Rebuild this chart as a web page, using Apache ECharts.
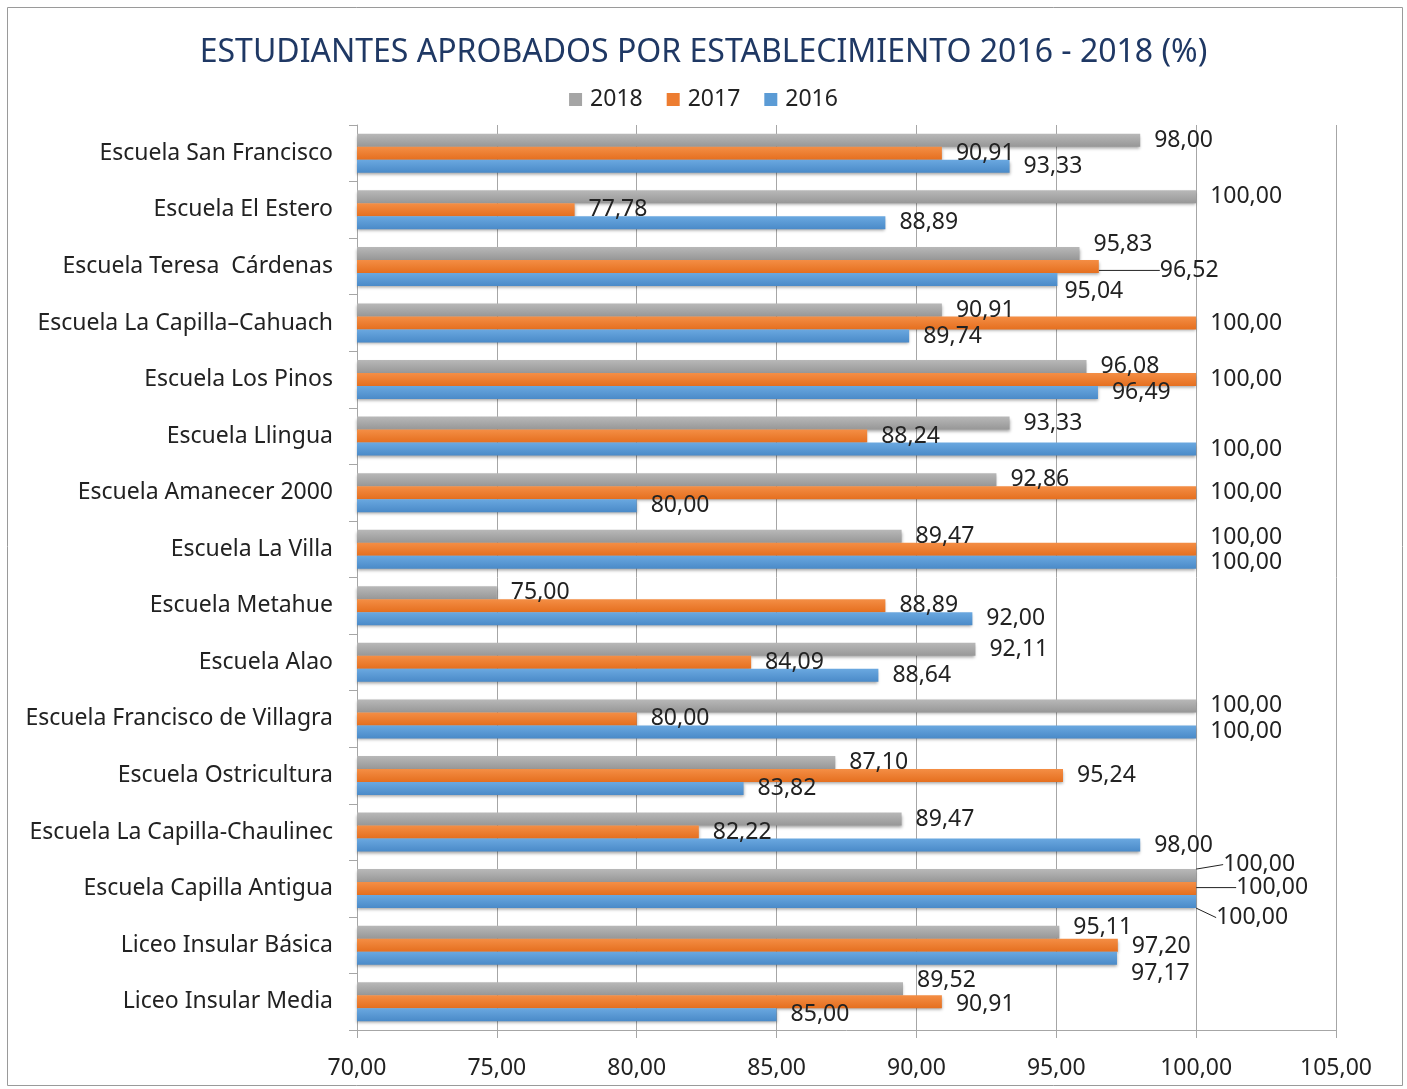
<!DOCTYPE html>
<html>
<head>
<meta charset="utf-8">
<script src="https://cdn.jsdelivr.net/npm/echarts@6/dist/echarts.min.js"></script>
<style>
html, body { margin: 0; padding: 0; background: #fff; }
#chart { width: 1407px; height: 1089px; }
</style>
</head>
<body>
<div id="chart"></div>
<script>
// 数据
var categorias = ["Escuela San Francisco", "Escuela El Estero", "Escuela Teresa  Cárdenas", "Escuela La Capilla\u2013Cahuach",
    "Escuela Los Pinos", "Escuela Llingua", "Escuela Amanecer 2000", "Escuela La Villa", "Escuela Metahue",
    "Escuela Alao", "Escuela Francisco de Villagra", "Escuela Ostricultura", "Escuela La Capilla-Chaulinec",
    "Escuela Capilla Antigua", "Liceo Insular Básica", "Liceo Insular Media"];
var datos2018 = [98.00, 100.00, 95.83, 90.91, 96.08, 93.33, 92.86, 89.47, 75.00, 92.11, 100.00, 87.10, 89.47, 100.00, 95.11, 89.52];
var datos2017 = [90.91, 77.78, 96.52, 100.00, 100.00, 88.24, 100.00, 100.00, 88.89, 84.09, 80.00, 95.24, 82.22, 100.00, 97.20, 90.91];
var datos2016 = [93.33, 88.89, 95.04, 89.74, 96.49, 100.00, 80.00, 100.00, 92.00, 88.64, 100.00, 83.82, 98.00, 100.00, 97.17, 85.00];

// etiquetas movidas a mano (como en el original): [dx, dy, con linea]
var ajustes = {
    '2018': { 2: [0, -9], 13: [13, -11, true], 14: [0, -5], 15: [0, -8] },
    '2017': { 2: [47, 4, true], 7: [0, -12], 13: [26, -1, true], 14: [0, 1], 15: [0, 3] },
    '2016': { 2: [-7, 12], 13: [6, 16, true], 14: [0, 15] }
};

var fuente = 'Noto Sans';
function coma(v) { return v.toFixed(2).replace('.', ','); }
function degradado(c1, c2) {
    return new echarts.graphic.LinearGradient(0, 0, 0, 1, [
        { offset: 0, color: c1 }, { offset: 1, color: c2 }
    ]);
}
function serie(nombre, datos, c1, c2) {
    var aj = ajustes[nombre] || {};
    return {
        name: nombre,
        type: 'bar',
        data: datos.map(function (v, i) {
            var a = aj[i];
            return (a && a[2]) ? { value: v, labelLine: { show: true } } : v;
        }),
        barWidth: 13,
        barGap: '0%',
        itemStyle: {
            color: degradado(c1, c2),
            shadowColor: 'rgba(0,0,0,0.35)',
            shadowBlur: 3,
            shadowOffsetY: 2
        },
        label: {
            show: true,
            position: 'right',
            distance: 14,
            color: '#222',
            fontFamily: fuente,
            fontSize: 23,
            formatter: function (p) { return coma(p.value); }
        },
        labelLine: { show: false, lineStyle: { color: '#222', width: 1 } },
        labelLayout: function (p) {
            var a = aj[p.dataIndex];
            return a ? { dx: a[0], dy: a[1] } : {};
        }
    };
}

var myChart = echarts.init(document.getElementById('chart'));
var option = {
    animation: false,
    textStyle: { fontFamily: fuente },
    title: {
        text: 'ESTUDIANTES APROBADOS POR ESTABLECIMIENTO 2016 - 2018 (%)',
        left: 'center',
        top: 32,
        textStyle: { color: '#1f3864', fontSize: 32, fontWeight: 'normal', fontFamily: fuente }
    },
    legend: {
        top: 83,
        left: 'center',
        itemWidth: 13,
        itemHeight: 13,
        itemGap: 24,
        icon: 'rect',
        textStyle: { fontSize: 23, color: '#222', fontFamily: fuente, padding: [0, 0, 0, 3] },
        data: [
            { name: '2018', itemStyle: { color: '#a5a5a5' } },
            { name: '2017', itemStyle: { color: '#ed7d31' } },
            { name: '2016', itemStyle: { color: '#5b9bd5' } }
        ]
    },
    graphic: [{
        type: 'rect',
        shape: { x: 7.5, y: 7.5, width: 1395, height: 1078 },
        style: { fill: 'none', stroke: '#9a9a9a', lineWidth: 1 },
        silent: true
    }],
    grid: { left: 357, right: 71, top: 125, bottom: 59 },
    xAxis: {
        type: 'value',
        min: 70,
        max: 105,
        interval: 5,
        axisLine: { show: true, lineStyle: { color: '#a6a6a6' } },
        axisTick: { show: true, length: 8, lineStyle: { color: '#a6a6a6' } },
        splitLine: { show: true, lineStyle: { color: '#a6a6a6' } },
        axisLabel: {
            fontSize: 23, color: '#222', margin: 27, fontFamily: fuente,
            formatter: function (v) { return coma(v); }
        }
    },
    yAxis: {
        type: 'category',
        inverse: true,
        data: categorias,
        axisLine: { show: true, lineStyle: { color: '#a6a6a6' } },
        axisTick: { show: true, length: 8, lineStyle: { color: '#a6a6a6' } },
        axisLabel: { fontSize: 23, color: '#222', margin: 24, fontFamily: fuente }
    },
    series: [
        serie('2018', datos2018, '#b8b8b8', '#979797'),
        serie('2017', datos2017, '#f48e45', '#e56f1f'),
        serie('2016', datos2016, '#6aa8e0', '#4a8ac8')
    ]
};
myChart.setOption(option);
</script>
</body>
</html>
